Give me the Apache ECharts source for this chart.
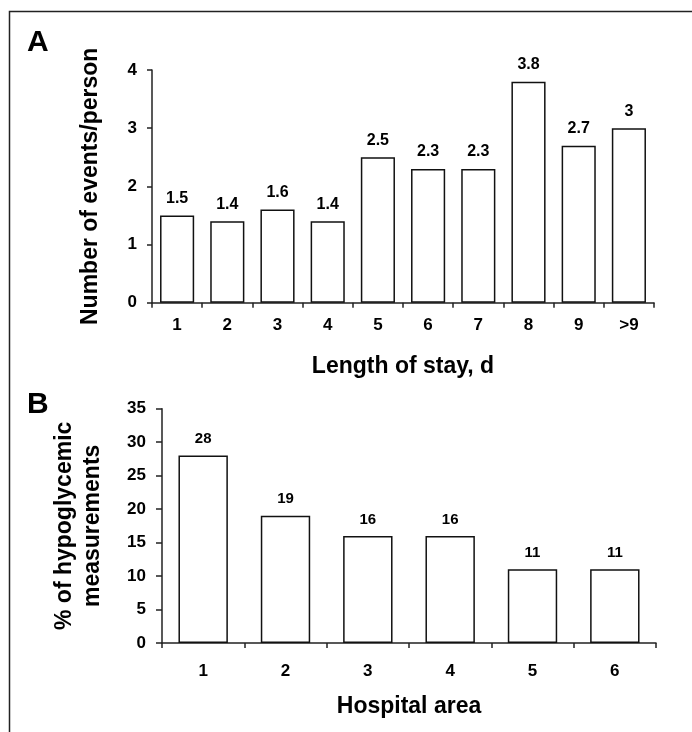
<!DOCTYPE html>
<html>
<head>
<meta charset="utf-8">
<style>
  html, body { margin: 0; padding: 0; background: #fff; }
  #chart { width: 692px; height: 732px; }
</style>
<script src="https://cdn.jsdelivr.net/npm/echarts@6/dist/echarts.min.js"></script>
</head>
<body>
<div id="chart"></div>
<script>
// ---- Data ----
const staysA = ['1', '2', '3', '4', '5', '6', '7', '8', '9', '>9'];
const eventsA = [1.5, 1.4, 1.6, 1.4, 2.5, 2.3, 2.3, 3.8, 2.7, 3];
const areasB = ['1', '2', '3', '4', '5', '6'];
const hypoB = [28, 19, 16, 16, 11, 11];
const ticksA = [0, 1, 2, 3, 4];
const ticksB = [0, 5, 10, 15, 20, 25, 30, 35];

const FONT = '"Liberation Sans", Arial, Helvetica, sans-serif';
const AX = '#222';

const chart = echarts.init(document.getElementById('chart'), null, { renderer: 'canvas' });

function yAxisCfg(gridIndex, ticks, name, gap, margin, tickLen, nameExtra) {
  return {
    type: 'value', gridIndex: gridIndex,
    min: ticks[0], max: ticks[ticks.length - 1], interval: ticks[1] - ticks[0],
    name: name, nameLocation: 'middle', nameGap: gap, nameRotate: 90,
    nameTextStyle: Object.assign({ fontFamily: FONT, fontWeight: 'bold', fontSize: 23, color: '#000' }, nameExtra || {}),
    axisLine: { show: true, lineStyle: { color: AX, width: 1.5 } },
    axisTick: { show: true, length: tickLen, lineStyle: { color: AX, width: 1.5 } },
    axisLabel: { margin: margin, fontFamily: FONT, fontWeight: 'bold', fontSize: 17, color: '#000' },
    splitLine: { show: false }
  };
}

function xAxisCfg(gridIndex, cats, name, gap, margin) {
  return {
    type: 'category', gridIndex: gridIndex, data: cats,
    name: name, nameLocation: 'middle', nameGap: gap,
    nameTextStyle: { fontFamily: FONT, fontWeight: 'bold', fontSize: 23, color: '#000' },
    axisLine: { show: true, lineStyle: { color: AX, width: 1.5 } },
    axisTick: { show: true, length: 5, alignWithLabel: false, lineStyle: { color: AX, width: 1.5 } },
    axisLabel: { margin: margin, fontFamily: FONT, fontWeight: 'bold', fontSize: 17, color: '#000' }
  };
}

function barSeries(idx, data, gapPct, labelSize) {
  return {
    type: 'bar', xAxisIndex: idx, yAxisIndex: idx, data: data,
    barCategoryGap: gapPct,
    itemStyle: { color: '#fff', borderColor: '#111', borderWidth: 1.5 },
    label: { show: true, position: 'top', distance: 9, fontFamily: FONT, fontWeight: 'bold', fontSize: labelSize, color: '#000' },
    emphasis: { disabled: true },
    animation: false
  };
}

const option = {
  backgroundColor: '#fff',
  animation: false,
  grid: [
    { left: 152, right: 38, top: 70, height: 232.7 },
    { left: 162, right: 36, top: 408.7, height: 234.3 }
  ],
  xAxis: [
    xAxisCfg(0, staysA, 'Length of stay, d', 52, 14),
    xAxisCfg(1, areasB, 'Hospital area', 52, 20)
  ],
  yAxis: [
    yAxisCfg(0, ticksA, 'Number of events/person', 50, 15, 5),
    yAxisCfg(1, ticksB, '% of hypoglycemic\nmeasurements', 55, 16, 6, { lineHeight: 28 })
  ],
  series: [
    barSeries(0, eventsA, '32%', 16),
    barSeries(1, hypoB, '40%', 15)
  ],
  graphic: [
    { type: 'polyline', shape: { points: [[9.5, 732], [9.5, 11.5], [692, 11.5]] },
      style: { stroke: '#222', lineWidth: 1.5, fill: null }, silent: true },
    { type: 'text', left: 27, top: 28, style: { text: 'A', fontFamily: FONT, fontWeight: 'bold', fontSize: 30, fill: '#000' } },
    { type: 'text', left: 27, top: 390, style: { text: 'B', fontFamily: FONT, fontWeight: 'bold', fontSize: 30, fill: '#000' } }
  ]
};
chart.setOption(option);
</script>
</body>
</html>
